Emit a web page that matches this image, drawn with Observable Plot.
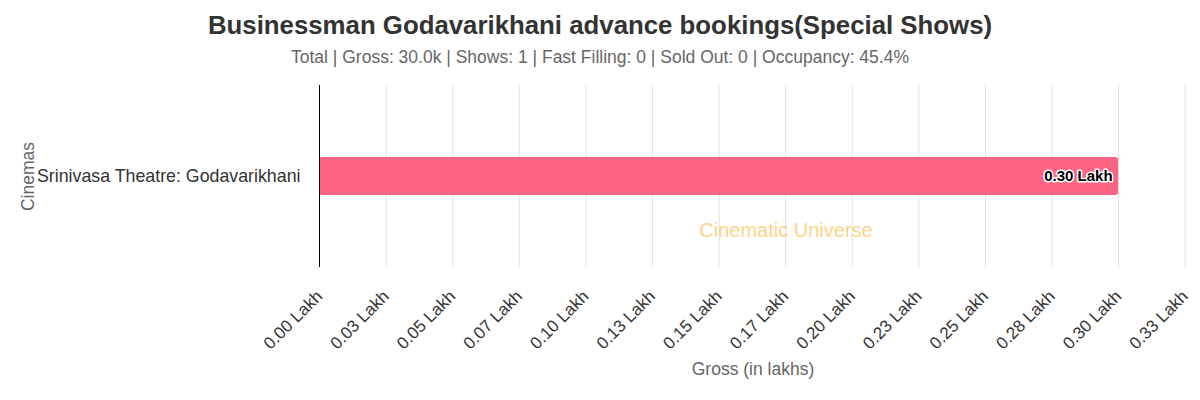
<!DOCTYPE html>
<html><head>
<meta charset="utf-8">
<script src="https://cdn.jsdelivr.net/npm/d3@7"></script>
<script src="https://cdn.jsdelivr.net/npm/@observablehq/plot@0.6"></script>
<style>
body{margin:0;background:#fff;font-family:"Liberation Sans",Arial,sans-serif;}
#title{position:absolute;top:0;left:0;width:1200px;text-align:center;font-size:25.8px;font-weight:bold;color:#333;line-height:50px;}
#sub{position:absolute;top:46px;left:0;width:1200px;text-align:center;font-size:17.5px;color:#666;line-height:22px;}
#chart{position:absolute;top:75px;left:0;}
</style></head><body>
<div id="title">Businessman Godavarikhani advance bookings(Special Shows)</div>
<div id="sub">Total | Gross: 30.0k | Shows: 1 | Fast Filling: 0 | Sold Out: 0 | Occupancy: 45.4%</div>
<div id="chart"></div>
<script>
const cinemas = ["Srinivasa Theatre: Godavarikhani"];
const gross = [0.30];
const barLabels = ["0.30 Lakh"];
const tickValues = [0, 0.025, 0.05, 0.075, 0.1, 0.125, 0.15, 0.175, 0.2, 0.225, 0.25, 0.275, 0.3, 0.325];
const tickLabels = ["0.00 Lakh","0.03 Lakh","0.05 Lakh","0.07 Lakh","0.10 Lakh","0.13 Lakh","0.15 Lakh","0.17 Lakh","0.20 Lakh","0.23 Lakh","0.25 Lakh","0.28 Lakh","0.30 Lakh","0.33 Lakh"];
const xDomain = [0, 0.33];

const data = cinemas.map((c, i) => ({cinema: c, gross: gross[i], label: barLabels[i]}));

const chart = Plot.plot({
  width: 1200, height: 325,
  marginLeft: 319, marginRight: 2, marginTop: 10, marginBottom: 133,
  style: {fontFamily: "Liberation Sans, Arial, sans-serif", fontSize: "16px", color: "#333", background: "white"},
  x: {domain: xDomain},
  y: {domain: cinemas, padding: 0.655},
  marks: [
    Plot.gridX(tickValues, {stroke: "#e0e0e0", strokeOpacity: 1}),
    Plot.barX(data, {x: "gross", y: "cinema", fill: "#ff6384", rx: 3}),
    Plot.ruleX([0], {stroke: "#000", strokeWidth: 1}),
    Plot.text(data, {x: "gross", y: "cinema", text: "label", textAnchor: "end", dx: -6, fontWeight: "bold", fontSize: 15, fill: "black", stroke: "white", strokeWidth: 3, paintOrder: "stroke"}),
    Plot.text(["Cinematic Universe"], {frameAnchor: "middle", dx: 27, dy: 54, fill: "#ffa500", fillOpacity: 0.5, fontSize: 20}),
    Plot.axisX(tickValues, {tickRotate: -45, tickSize: 0, tickPadding: 26, tickFormat: d => tickLabels[tickValues.indexOf(d)], label: null, fontSize: 17, fill: "#333"}),
    Plot.axisY({tickSize: 0, tickPadding: 19, label: null, fontSize: 17.8, fill: "#333"}),
    Plot.text(["Cinemas"], {frameAnchor: "left", textAnchor: "middle", dx: -291, rotate: -90, fill: "#666", fontSize: 17.5}),
    Plot.text(["Gross (in lakhs)"], {frameAnchor: "bottom", dx: -6, dy: 107, fill: "#666", fontSize: 17.5})
  ]
});
document.getElementById("chart").appendChild(chart);
</script>
</body></html>
